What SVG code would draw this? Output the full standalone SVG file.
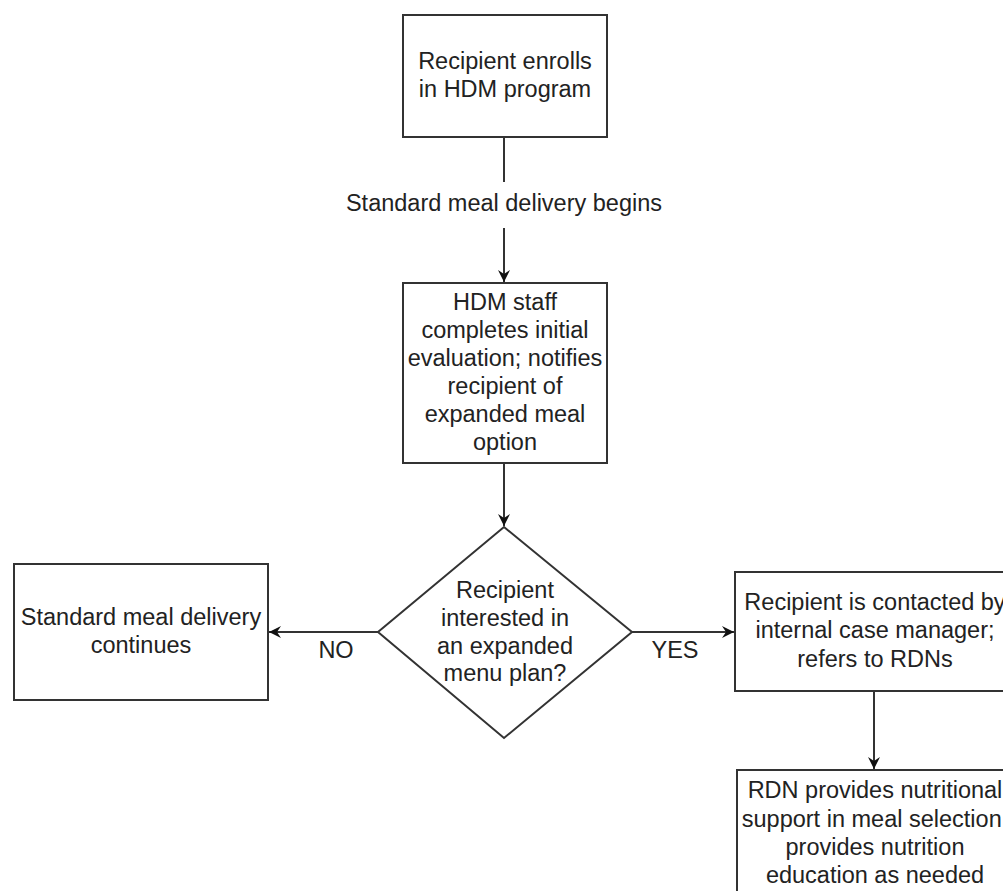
<svg xmlns="http://www.w3.org/2000/svg" width="1003" height="891" viewBox="0 0 1003 891">
<style>
.box{fill:#fff;stroke:#333;stroke-width:2}
.t{font-family:"Liberation Sans",Arial,sans-serif;font-size:23.5px;fill:#222;text-anchor:middle}
.c{fill:none;stroke:#333;stroke-width:2}
</style>
<defs>
<marker id="ah" markerWidth="13" markerHeight="12" refX="12" refY="6" orient="auto" markerUnits="userSpaceOnUse">
<path d="M0,0 L12,6 L0,12 L4,6 Z" fill="#111"/>
</marker>
</defs>
<rect width="1003" height="891" fill="#fff"/>
<g id="connectors">
<line class="c" x1="504" y1="137" x2="504" y2="182"/>
<line class="c" x1="504" y1="228" x2="504" y2="282" marker-end="url(#ah)"/>
<line class="c" x1="504" y1="463" x2="504" y2="526" marker-end="url(#ah)"/>
<line class="c" x1="378" y1="632" x2="269" y2="632" marker-end="url(#ah)"/>
<line class="c" x1="632" y1="632" x2="734" y2="632" marker-end="url(#ah)"/>
<line class="c" x1="874" y1="691" x2="874" y2="769" marker-end="url(#ah)"/>
<text class="t" x="504" y="211">Standard meal delivery begins</text>
<text class="t" x="336" y="658">NO</text>
<text class="t" x="675" y="658">YES</text>
</g>
<g id="enroll">
<rect class="box" x="403" y="15" width="204" height="122"/>
<text class="t" x="505" y="69">Recipient enrolls</text>
<text class="t" x="505" y="97">in HDM program</text>
</g>
<g id="evaluation">
<rect class="box" x="403" y="283" width="204" height="180"/>
<text class="t" x="505" y="310">HDM staff</text>
<text class="t" x="505" y="338">completes initial</text>
<text class="t" x="505" y="366">evaluation; notifies</text>
<text class="t" x="505" y="394">recipient of</text>
<text class="t" x="505" y="422">expanded meal</text>
<text class="t" x="505" y="450">option</text>
</g>
<g id="decision">
<polygon class="box" points="504,527 632,632 504,738 378,632"/>
<text class="t" x="505" y="598">Recipient</text>
<text class="t" x="505" y="626">interested in</text>
<text class="t" x="505" y="654">an expanded</text>
<text class="t" x="505" y="681">menu plan?</text>
</g>
<g id="standard">
<rect class="box" x="14" y="564" width="254" height="136"/>
<text class="t" x="141" y="625">Standard meal delivery</text>
<text class="t" x="141" y="653">continues</text>
</g>
<g id="contacted">
<rect class="box" x="735" y="572" width="280" height="119"/>
<text class="t" x="875" y="610">Recipient is contacted by</text>
<text class="t" x="875" y="638">internal case manager;</text>
<text class="t" x="875" y="667">refers to RDNs</text>
</g>
<g id="rdn">
<rect class="box" x="737" y="770" width="280" height="140"/>
<text class="t" x="875" y="798">RDN provides nutritional</text>
<text class="t" x="875" y="827">support in meal selection;</text>
<text class="t" x="875" y="855">provides nutrition</text>
<text class="t" x="875" y="883">education as needed</text>
</g>
</svg>
